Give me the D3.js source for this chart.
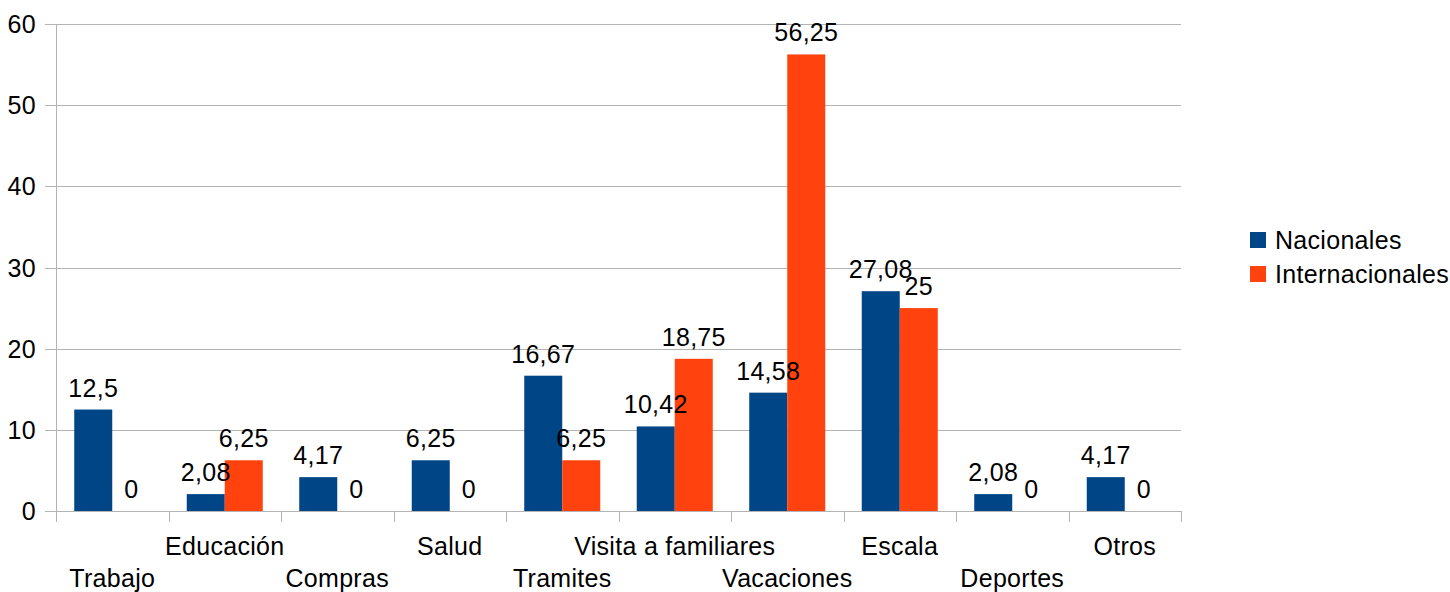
<!DOCTYPE html>
<html>
<head>
<meta charset="utf-8">
<script src="https://cdn.jsdelivr.net/npm/d3@7"></script>
<style>
  body { margin: 0; background: #fff; }
  text { font-family: "Liberation Sans", Arial, sans-serif; letter-spacing: 0.3px; }
</style>
</head>
<body>
<script>
// data
var categories = ["Trabajo", "Educación", "Compras", "Salud", "Tramites",
    "Visita a familiares", "Vacaciones", "Escala", "Deportes", "Otros"];
var nacionales = [12.5, 2.08, 4.17, 6.25, 16.67, 10.42, 14.58, 27.08, 2.08, 4.17];
var internacionales = [0, 6.25, 0, 0, 6.25, 18.75, 56.25, 25, 0, 0];
var seriesNames = ["Nacionales", "Internacionales"];
var yTicks = [0, 10, 20, 30, 40, 50, 60];

var w = 1450;
var h = 592;
var colors = ["#004586", "#ff420e"];
var gridColor = "#b3b3b3";

var plotLeft = 56, plotRight = 1181, plotTop = 24, plotBottom = 511;

var svg = d3.select("body")
    .append("svg")
    .attr("width", w)
    .attr("height", h);

// Scales
var xScale = d3.scaleBand()
    .domain(categories)
    .range([plotLeft, plotRight])
    .paddingInner(0)
    .paddingOuter(0);

var xInner = d3.scaleBand()
    .domain(seriesNames)
    .range([0, xScale.bandwidth()])
    .paddingOuter(0.48)
    .paddingInner(0);

var yScale = d3.scaleLinear()
    .domain([0, 60])
    .range([plotBottom, plotTop]);

// grid lines + y labels
svg.selectAll(".grid")
    .data(yTicks)
    .enter()
    .append("line")
    .attr("x1", plotLeft - 11)
    .attr("x2", plotRight)
    .attr("y1", function (d) { return Math.round(yScale(d)) + 0.5; })
    .attr("y2", function (d) { return Math.round(yScale(d)) + 0.5; })
    .attr("stroke", gridColor)
    .attr("stroke-width", 1);

svg.selectAll(".ylab")
    .data(yTicks)
    .enter()
    .append("text")
    .text(function (d) { return d; })
    .attr("text-anchor", "end")
    .attr("x", 36)
    .attr("y", function (d) { return yScale(d) + 9; })
    .attr("font-size", "25px")
    .attr("fill", "#000");

// y axis line
svg.append("line")
    .attr("x1", plotLeft + 0.5).attr("x2", plotLeft + 0.5)
    .attr("y1", plotTop).attr("y2", plotBottom)
    .attr("stroke", gridColor);

// x category boundary ticks
var bounds = categories.map(function (c) { return xScale(c); });
bounds.push(plotRight);
svg.selectAll(".xtick")
    .data(bounds)
    .enter()
    .append("line")
    .attr("x1", function (d) { return Math.round(d) + 0.5; })
    .attr("x2", function (d) { return Math.round(d) + 0.5; })
    .attr("y1", plotBottom)
    .attr("y2", plotBottom + 11)
    .attr("stroke", gridColor);

// bars
var rows = [];
categories.forEach(function (c, i) {
    rows.push({ cat: c, s: 0, v: nacionales[i] });
    rows.push({ cat: c, s: 1, v: internacionales[i] });
});

svg.selectAll(".bar")
    .data(rows)
    .enter()
    .append("rect")
    .attr("x", function (d) { return xScale(d.cat) + xInner(seriesNames[d.s]); })
    .attr("y", function (d) { return yScale(d.v); })
    .attr("width", xInner.bandwidth())
    .attr("height", function (d) { return yScale(0) - yScale(d.v); })
    .attr("fill", function (d) { return colors[d.s]; });

// value labels
svg.selectAll(".val")
    .data(rows)
    .enter()
    .append("text")
    .text(function (d) { return String(d.v).replace(".", ","); })
    .attr("text-anchor", "middle")
    .attr("x", function (d) {
        return xScale(d.cat) + xInner(seriesNames[d.s]) + xInner.bandwidth() / 2;
    })
    .attr("y", function (d) { return yScale(d.v) - 13; })
    .attr("font-size", "25px")
    .attr("fill", "#000");

// category labels, staggered
svg.selectAll(".xlab")
    .data(categories)
    .enter()
    .append("text")
    .text(function (d) { return d; })
    .attr("text-anchor", "middle")
    .attr("x", function (d) { return xScale(d) + xScale.bandwidth() / 2; })
    .attr("y", function (d, i) { return i % 2 === 0 ? 587 : 555; })
    .attr("font-size", "25px")
    .attr("fill", "#000");

// legend
var legend = svg.selectAll(".leg")
    .data(seriesNames)
    .enter()
    .append("g")
    .attr("transform", function (d, i) { return "translate(1250," + (232 + i * 34) + ")"; });

legend.append("rect")
    .attr("width", 16)
    .attr("height", 16)
    .attr("fill", function (d, i) { return colors[i]; });

legend.append("text")
    .text(function (d) { return d; })
    .attr("x", 25)
    .attr("y", 17)
    .attr("font-size", "25px")
    .attr("fill", "#000");
</script>
</body>
</html>
